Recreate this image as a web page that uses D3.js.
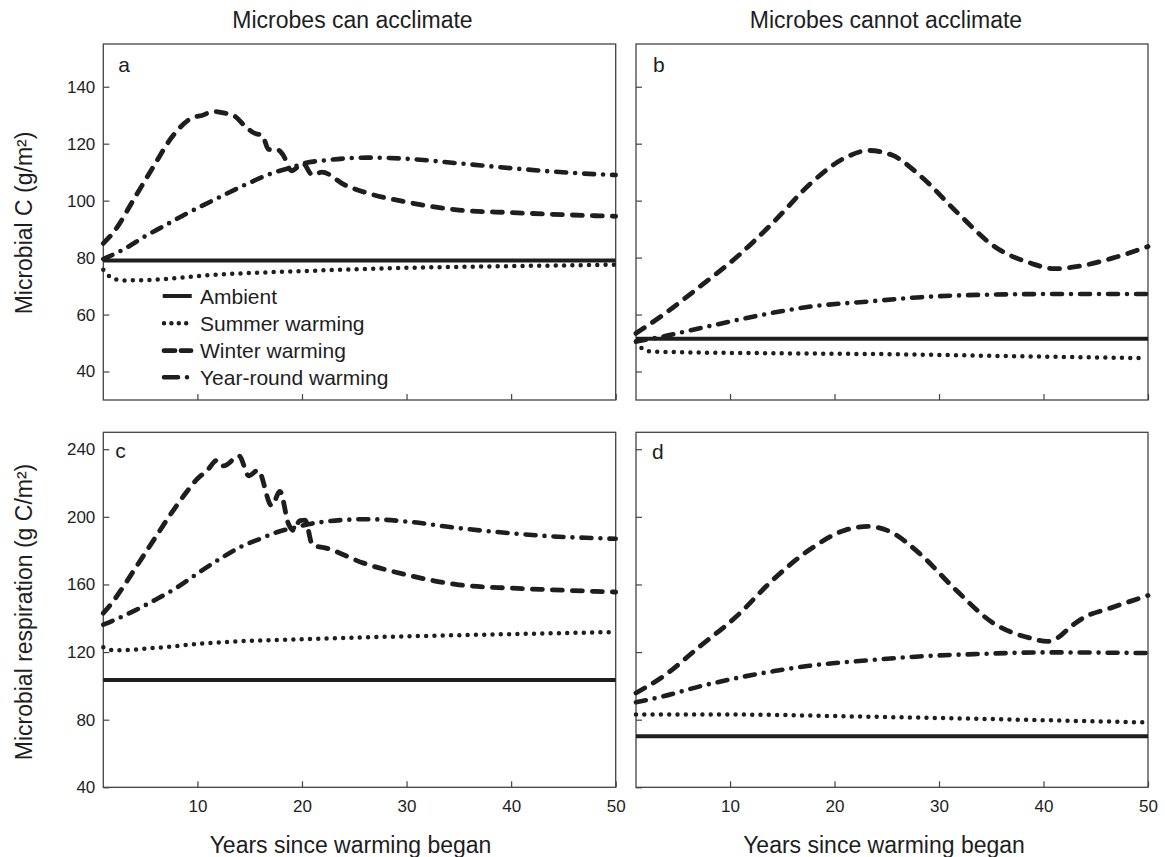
<!DOCTYPE html>
<html>
<head>
<meta charset="utf-8">
<script src="https://cdn.jsdelivr.net/npm/d3@7"></script>
<style>
  html, body { margin: 0; padding: 0; background: #fff; }
  svg { display: block; font-family: "Liberation Sans", Arial, Helvetica, sans-serif; }
</style>
</head>
<body>
<svg id="chart" width="1165" height="857"></svg>
<script>
// ---------------- DATA ----------------
const seriesNames = ["Ambient", "Summer warming", "Winter warming", "Year-round warming"];
const columnTitles = ["Microbes can acclimate", "Microbes cannot acclimate"];
const rowTitles = ["Microbial C (g/m²)", "Microbial respiration (g C/m²)"];
const xTitle = "Years since warming began";
const panelLetters = ["a", "b", "c", "d"];
const xTicks = [10, 20, 30, 40, 50];
const yTicksTop = [40, 60, 80, 100, 120, 140];
const yTicksBottom = [40, 80, 120, 160, 200, 240];

// Panel a: microbial C, microbes can acclimate  ([year, value])
const aAmbient = [[1, 79], [50, 79]];
const aSummer = [[1, 75.7], [2, 72.5], [3, 72], [5.8, 72.2], [11, 73.8], [20.4, 75.3], [30, 76.4], [40, 77], [48, 77.4], [50, 77.5]];
const aWinter = [[1, 85], [2, 89], [4, 101], [5.8, 112], [7.6, 122.5], [9.45, 129], [10.5, 130], [11.5, 131.3], [12.5, 130.8], [13.5, 129.8], [14.6, 126], [15.5, 123.6], [16.2, 123], [16.8, 118], [17.7, 117.8], [18.2, 116], [19, 110.5], [20.1, 113], [21, 109], [21.9, 110], [24.1, 105.5], [26.3, 102.6], [30, 99.5], [35, 96.7], [40, 95.8], [44, 95.2], [48, 94.7], [50, 94.5]];
const aYear = [[1, 79.5], [3, 83], [5, 87.5], [7, 91.5], [9, 95.5], [12, 101], [15, 106.3], [17.2, 109.7], [19.2, 111.9], [20, 112.9], [22.6, 114.3], [26.3, 115.1], [30, 114.7], [35, 113.1], [40, 111.4], [44, 110.2], [48, 109.3], [50, 109]];

// Panel b: microbial C, microbes cannot acclimate
const bAmbient = [[1, 51.5], [50, 51.5]];
const bSummer = [[1, 50.5], [1.8, 47.6], [2.6, 47], [14.2, 46.4], [24.8, 46.1], [35.3, 45.5], [49.5, 44.7]];
const bWinter = [[1, 53.4], [3.6, 59.9], [7.1, 69.8], [10.7, 80.4], [14.2, 92.6], [17.7, 106], [21.2, 115.4], [23.3, 117.6], [25.5, 116], [28.3, 108.4], [31.8, 95.6], [35.3, 83.9], [38.8, 78], [41, 76.1], [43.1, 76.8], [46.6, 79.8], [50, 83.9]];
const bYear = [[1, 50.5], [3.6, 52.3], [7.1, 55.2], [10.7, 58.1], [14.2, 60.7], [17.7, 62.8], [23.3, 64.6], [28.3, 66.1], [33.6, 66.9], [40.6, 67.2], [50, 67.2]];

// Panel c: microbial respiration, microbes can acclimate
const cAmbient = [[1, 103.5], [50, 103.5]];
const cSummer = [[1, 122.8], [2.1, 121], [5.8, 122.4], [11, 125.3], [20.4, 127.7], [30, 129.3], [40, 130.6], [48, 131.6], [50, 131.8]];
const cWinter = [[1, 143], [2, 150.5], [3, 159.5], [4, 169], [5, 178.5], [6, 188], [7, 197.5], [8, 206.5], [9, 215], [10, 222.5], [10.9, 227.2], [11.9, 233.5], [12.5, 230.1], [14, 236], [14.9, 224.3], [15.8, 227.6], [17.1, 206.6], [17.9, 215], [18.7, 195.9], [19.2, 191.9], [19.8, 197.8], [20.3, 198], [21, 183.4], [22.3, 181.5], [25.9, 172.6], [30, 165.7], [35, 159.8], [40, 157.8], [44, 156.8], [48, 155.9], [50, 155.5]];
const cYear = [[1, 136.2], [2, 138.8], [4, 144.5], [6, 151], [8, 158], [10, 166.5], [12.2, 175.3], [14.1, 182.1], [16, 187], [17.6, 190.9], [19.2, 193.5], [20.5, 195.5], [22, 197], [24.1, 198.2], [26.3, 198.6], [30, 197.2], [35, 193.3], [40, 190.3], [44, 188.4], [48, 187.4], [50, 187]];

// Panel d: microbial respiration, microbes cannot acclimate
const dAmbient = [[1, 70.2], [50, 70.2]];
const dSummer = [[1, 83], [10.6, 83], [21.1, 82], [31.6, 80.8], [42.2, 79.4], [49.6, 78.4]];
const dWinter = [[1, 95.8], [3.6, 105.6], [7.1, 123.3], [10.6, 141], [14.1, 162.7], [17.6, 180.5], [21.1, 192.3], [23.2, 194.3], [25.3, 191.3], [28.1, 178.5], [31.6, 156.8], [35.2, 137.1], [38.7, 128.3], [40.4, 126.3], [41.5, 129], [42.5, 134.5], [43.9, 140.5], [46.4, 146], [50, 153.5]];
const dYear = [[1, 90.3], [3.6, 93.8], [7.1, 99.7], [10.6, 104.6], [14.1, 108.6], [17.6, 111.9], [23.2, 115.1], [28.1, 117.4], [33.4, 118.8], [40.4, 119.8], [50, 119.4]];

// ---------------- STYLES ----------------
const ink = "#1e1e1e";
const styles = {
  "Ambient":            { width: 4,   dash: null,        legendDash: null },
  "Summer warming":     { width: 4.5, dash: "0 8.3",     legendDash: "0 7.4" },
  "Winter warming":     { width: 4.8, dash: "10 10",     legendDash: "11 6" },
  "Year-round warming": { width: 4.6, dash: "10 9 0 9",  legendDash: "14 9 0 20" }
};

// ---------------- LAYOUT ----------------
const svg = d3.select("#chart");
const xL = d3.scaleLinear().domain([1, 50]).range([103.3, 615.7]);
const xR = d3.scaleLinear().domain([1, 50]).range([636, 1148]);
const yT = d3.scaleLinear().domain([30, 155]).range([400, 44]);
const yB = d3.scaleLinear().domain([40, 250]).range([787.3, 432.3]);

const panels = [
  { letter: panelLetters[0], x: xL, y: yT, yTicks: yTicksTop,    yLabels: true,  xLabels: false, series: [aAmbient, aSummer, aYear, aWinter], lx: 15, ly: 28 },
  { letter: panelLetters[1], x: xR, y: yT, yTicks: yTicksTop,    yLabels: false, xLabels: false, series: [bAmbient, bSummer, bYear, bWinter], lx: 17, ly: 28 },
  { letter: panelLetters[2], x: xL, y: yB, yTicks: yTicksBottom, yLabels: true,  xLabels: true,  series: [cAmbient, cSummer, cYear, cWinter], lx: 12, ly: 26 },
  { letter: panelLetters[3], x: xR, y: yB, yTicks: yTicksBottom, yLabels: false, xLabels: true,  series: [dAmbient, dSummer, dYear, dWinter], lx: 16, ly: 27 }
];
const order = ["Ambient", "Summer warming", "Year-round warming", "Winter warming"];

panels.forEach(p => {
  const [x0, x1] = p.x.range();
  const [y0, y1] = p.y.range(); // y0 bottom, y1 top
  const g = svg.append("g");

  // frame
  g.append("rect")
    .attr("x", x0).attr("y", y1)
    .attr("width", x1 - x0).attr("height", y0 - y1)
    .attr("fill", "none").attr("stroke", "#444").attr("stroke-width", 1.3);

  // y axis
  const ya = d3.axisLeft(p.y).tickValues(p.yTicks)
    .tickSizeInner(-6).tickSizeOuter(0).tickPadding(8);
  if (!p.yLabels) ya.tickFormat("");
  const yg = g.append("g").attr("transform", `translate(${x0},0)`).call(ya);
  yg.select(".domain").remove();
  yg.selectAll(".tick line").attr("stroke", "#444").attr("stroke-width", 1.2);
  yg.selectAll("text").attr("font-size", 17).attr("fill", ink)
    .attr("font-family", "Liberation Sans, Arial, sans-serif");

  // x axis
  const xa = d3.axisBottom(p.x).tickValues(xTicks)
    .tickSizeInner(-6).tickSizeOuter(0).tickPadding(13);
  if (!p.xLabels) xa.tickFormat("");
  const xg = g.append("g").attr("transform", `translate(0,${y0})`).call(xa);
  xg.select(".domain").remove();
  xg.selectAll(".tick line").attr("stroke", "#444").attr("stroke-width", 1.2);
  xg.selectAll("text").attr("font-size", 17).attr("fill", ink)
    .attr("font-family", "Liberation Sans, Arial, sans-serif");

  // lines
  const line = d3.line()
    .x(d => p.x(d[0])).y(d => p.y(d[1]))
    .curve(d3.curveMonotoneX);
  const mapping = { "Ambient": p.series[0], "Summer warming": p.series[1], "Year-round warming": p.series[2], "Winter warming": p.series[3] };
  order.forEach(name => {
    const st = styles[name];
    g.append("path")
      .datum(mapping[name])
      .attr("d", line)
      .attr("fill", "none")
      .attr("stroke", ink)
      .attr("stroke-width", st.width)
      .attr("stroke-linecap", st.dash ? "round" : "butt")
      .attr("stroke-linejoin", "round")
      .attr("stroke-dasharray", st.dash);
  });

  // panel letter
  g.append("text")
    .attr("x", x0 + p.lx).attr("y", y1 + p.ly)
    .attr("font-size", 21).attr("fill", ink)
    .text(p.letter);
});

// legend in panel a
const legX0 = 164, legX1 = 191, legTextX = 200;
const legRows = [296, 323.3, 350.7, 377.3];
seriesNames.forEach((name, i) => {
  const st = styles[name];
  svg.append("line")
    .attr("x1", name === "Ambient" ? 162.7 : legX0).attr("x2", name === "Ambient" ? 191.7 : legX1)
    .attr("y1", legRows[i]).attr("y2", legRows[i])
    .attr("stroke", ink).attr("stroke-width", st.width)
    .attr("stroke-linecap", st.legendDash ? "round" : "butt")
    .attr("stroke-dasharray", st.legendDash);
  svg.append("text")
    .attr("x", legTextX).attr("y", legRows[i] + 7.5)
    .attr("font-size", 21).attr("fill", ink)
    .text(name);
});

// column titles
const colCenters = [352.5, 886];
columnTitles.forEach((t, i) => {
  svg.append("text")
    .attr("x", colCenters[i]).attr("y", 28.3)
    .attr("text-anchor", "middle").attr("font-size", 23).attr("fill", ink)
    .text(t);
});

// x titles
const xTitleCenters = [350.5, 884];
xTitleCenters.forEach(cx => {
  svg.append("text")
    .attr("x", cx).attr("y", 853.3)
    .attr("text-anchor", "middle").attr("font-size", 23).attr("fill", ink)
    .text(xTitle);
});

// y titles
const rowCenters = [223, 612];
rowTitles.forEach((t, i) => {
  svg.append("text")
    .attr("transform", `translate(31.5,${rowCenters[i]}) rotate(-90)`)
    .attr("text-anchor", "middle").attr("font-size", 23).attr("fill", ink)
    .text(t);
});
</script>
</body>
</html>
